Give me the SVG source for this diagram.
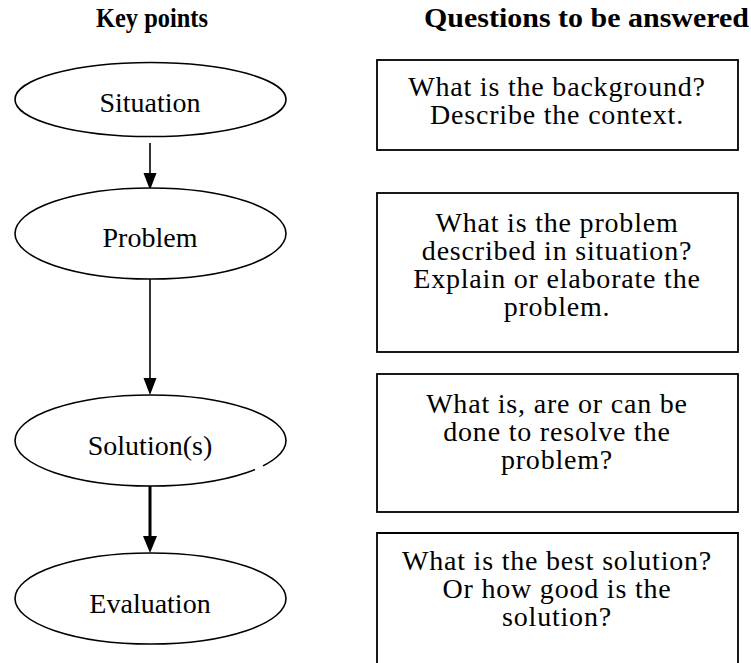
<svg xmlns="http://www.w3.org/2000/svg" width="751" height="663" viewBox="0 0 751 663">
<style>
.bg{fill:#fff}
.ell{fill:#fff;stroke:#000;stroke-width:1.6}
.box{fill:#fff;stroke:#000;stroke-width:1.8}
.t{font-family:"Liberation Serif","Times New Roman",serif;font-size:28px;fill:#000;text-anchor:middle}
.q{font-family:"Liberation Serif","Times New Roman",serif;font-size:28px;letter-spacing:0.8px;fill:#000;text-anchor:middle}
.h{font-family:"Liberation Serif","Times New Roman",serif;font-size:28px;font-weight:bold;fill:#000}
.ln{stroke:#000;stroke-width:1.6;fill:none}
.lnb{stroke:#000;stroke-width:3;fill:none}
</style>
<rect class="bg" x="0" y="0" width="751" height="663"/>
<g id="headers">
<text class="h" x="96" y="27" textLength="112" lengthAdjust="spacingAndGlyphs">Key points</text>
<text class="h" x="424" y="27" textLength="325" lengthAdjust="spacingAndGlyphs">Questions to be answered</text>
</g>
<g id="connectors">
<line class="ln" x1="150" y1="143" x2="150" y2="174"/>
<polygon points="143.5,173 156.5,173 150,190" fill="#000"/>
<line class="ln" x1="150" y1="279" x2="150" y2="379"/>
<polygon points="143.5,378 156.5,378 150,395" fill="#000"/>
<line class="lnb" x1="150" y1="486" x2="150" y2="538"/>
<polygon points="143,536 157,536 150,553" fill="#000"/>
</g>
<g id="situation">
<ellipse class="ell" cx="150.5" cy="99.5" rx="135.5" ry="37"/>
<text class="t" x="150" y="112">Situation</text>
</g>
<g id="problem">
<ellipse class="ell" cx="150.5" cy="233.5" rx="135.5" ry="45.5"/>
<text class="t" x="150" y="247">Problem</text>
</g>
<g id="solution">
<ellipse class="ell" cx="150.5" cy="440.5" rx="135.5" ry="45.5"/>
<line x1="255" y1="469.5" x2="263" y2="466" stroke="#fff" stroke-width="4"/>
<text class="t" x="150" y="455">Solution(s)</text>
</g>
<g id="evaluation">
<ellipse class="ell" cx="150.5" cy="598.5" rx="135.5" ry="45.5"/>
<text class="t" x="150" y="613">Evaluation</text>
</g>
<g id="q1">
<rect class="box" x="377" y="60" width="361" height="90"/>
<text class="q" x="557" y="96">What is the background?</text>
<text class="q" x="557" y="124">Describe the context.</text>
</g>
<g id="q2">
<rect class="box" x="377" y="193" width="361" height="159"/>
<text class="q" x="557" y="232">What is the problem</text>
<text class="q" x="557" y="260">described in situation?</text>
<text class="q" x="557" y="288">Explain or elaborate the</text>
<text class="q" x="557" y="316">problem.</text>
</g>
<g id="q3">
<rect class="box" x="377" y="374" width="361" height="138"/>
<text class="q" x="557" y="413">What is, are or can be</text>
<text class="q" x="557" y="441">done to resolve the</text>
<text class="q" x="557" y="469">problem?</text>
</g>
<g id="q4">
<path class="box" d="M377,665 L377,533 L738,533 L738,665"/>
<text class="q" x="557" y="570">What is the best solution?</text>
<text class="q" x="557" y="598">Or how good is the</text>
<text class="q" x="557" y="626">solution?</text>
</g>
</svg>
